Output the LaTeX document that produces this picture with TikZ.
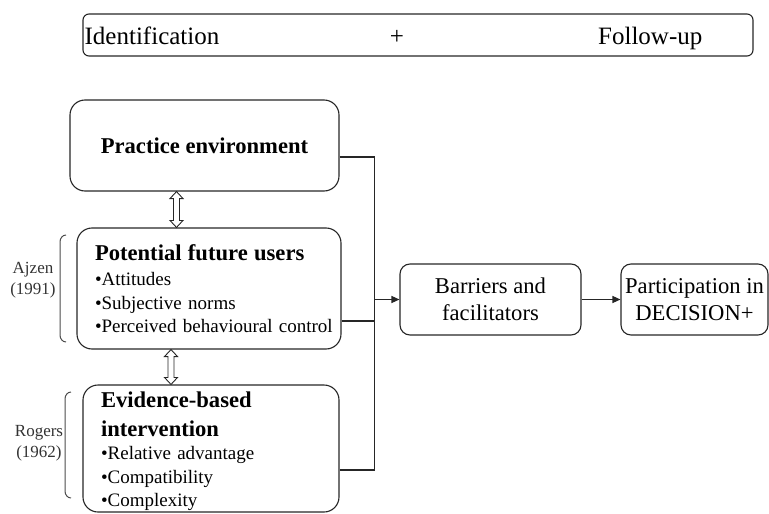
\documentclass[tikz,border=0pt]{standalone}
\usepackage{fontspec}
\setmainfont{Liberation Serif}
\usetikzlibrary{positioning}
\usetikzlibrary{arrows.meta}
\usetikzlibrary{calc}

\tikzset{
  box/.style={rectangle,rounded corners=15pt,draw=black!85,line width=1.1pt,inner sep=0pt},
  line/.style={draw=black!85,line width=1.1pt},
  arrowline/.style={line,-{Triangle[length=8pt,width=7pt]}},
  dblarrow/.style={draw=black!85,fill=white,line width=0.9pt,line join=miter},
  bracket/.style={draw=black!70,line width=1pt},
}

\newcommand{\bodyfont}{\fontsize{19}{23.5}\selectfont}
\newcommand{\headfont}{\bfseries\fontsize{22.6}{27}\selectfont}
\newcommand{\boxfont}{\fontsize{22.6}{27.5}\selectfont}

\begin{document}
\begin{tikzpicture}[x=1pt,y=-1pt]
\useasboundingbox (0,0) rectangle (769,514);

% banner
\node[box,rounded corners=6pt,minimum width=670pt,minimum height=42pt](idf) at (418,35){};
\node[anchor=base west,inner sep=0pt,font=\fontsize{25}{30}\selectfont](idtext) at ([xshift=2pt,yshift=-10pt]idf.west){Identification};
\node[anchor=base,inner sep=0pt,font=\fontsize{25}{30}\selectfont](plus) at ([xshift=-21pt,yshift=-10pt]idf.center){+};
\node[anchor=base east,inner sep=0pt,font=\fontsize{25}{30}\selectfont](futext) at ([xshift=-51pt,yshift=-10pt]idf.east){Follow-up};

% left column
\node[box,minimum width=269pt,minimum height=91pt,font=\headfont](pe) at (204.5,145.5){Practice environment};
\node[box,minimum width=264pt,minimum height=121pt,text width=228pt,inner xsep=18pt,align=left,font=\bodyfont](pu) at (209,288.5){{\headfont Potential future users}\\[2pt]
  •Attitudes\\
  •Subjective norms\\
  \mbox{•Perceived behavioural control}};
\node[box,minimum width=256pt,minimum height=127pt,text width=220pt,text height=22pt,inner xsep=18pt,align=left,font=\bodyfont](eb) at (211,448.5){{\headfont Evidence-based\\[5pt] intervention}\\
  •Relative advantage\\
  •Compatibility\\
  •Complexity};

% two-way links
\coordinate (s1) at ([xshift=-28pt]pe.south);
\coordinate (e1) at ([xshift=-28pt]pe.south |- pu.north);
\draw[dblarrow] (s1) -- ++(6.5,7) -- ++(-3.5,0) -- ($(e1)+(3,-7)$) -- ++(3.5,0) -- (e1)
  -- ++(-6.5,-7) -- ++(3.5,0) -- ($(s1)+(-3,7)$) -- ++(-3.5,0) -- cycle;
\coordinate (s2) at ([xshift=-38pt]pu.south);
\coordinate (e2) at ([xshift=-38pt]pu.south |- eb.north);
\draw[dblarrow] (s2) -- ++(6.5,7) -- ++(-3.5,0) -- ($(e2)+(3,-7)$) -- ++(3.5,0) -- (e2)
  -- ++(-6.5,-7) -- ++(3.5,0) -- ($(s2)+(-3,7)$) -- ++(-3.5,0) -- cycle;

% theories
\draw[bracket] (66,235) to[out=180,in=90] (60,242) -- (60,335) to[out=-90,in=180] (66,342);
\node[align=center,inner sep=0pt,text=black!80,font=\fontsize{17}{21}\selectfont](ajzen) at (33,280.5){Ajzen\\(1991)};
\draw[bracket] (71,392) to[out=180,in=90] (65,399) -- (65,491) to[out=-90,in=180] (71,498);
\node[align=center,inner sep=0pt,text=black!80,font=\fontsize{17}{21}\selectfont](rogers) at (39,443.5){Rogers\\(1962)};

% right side
\node[box,rounded corners=10pt,minimum width=181pt,minimum height=71pt,align=center,font=\boxfont](bf) at (490.5,299.5){Barriers and\\facilitators};
\node[box,rounded corners=10pt,minimum width=147pt,minimum height=71pt,align=center,font=\boxfont](pd) at (694.5,299.5){Participation in\\DECISION+};
\coordinate[left=25pt of bf.west](bus);

\draw[line] ([yshift=-11.5pt]pe.east) -| (bus);
\draw[line] ([yshift=-32.5pt]pu.east) -- ([yshift=-32.5pt]pu.east -| bus);
\draw[line] ([yshift=-21.5pt]eb.east) -| (bus);
\draw[arrowline] (bus) -- (bf);
\draw[arrowline] (bf) -- (pd);

\end{tikzpicture}
\end{document}
